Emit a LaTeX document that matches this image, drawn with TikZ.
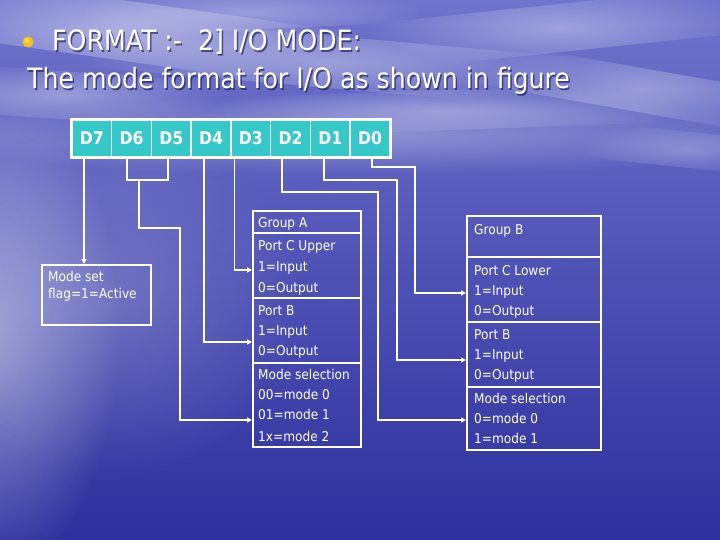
\documentclass[tikz,border=0pt]{standalone}
\usepackage{fontspec}
\setmainfont[FakeStretch=0.9]{DejaVu Sans}
\usetikzlibrary{arrows.meta,fadings}
\definecolor{bgtop}{RGB}{112,116,204}
\definecolor{bgmid}{RGB}{68,72,182}
\definecolor{bgbot}{RGB}{46,48,158}
\definecolor{teal}{RGB}{52,200,200}
\definecolor{shadow}{RGB}{20,20,70}
\definecolor{bullet}{RGB}{242,192,30}
\tikzfading[name=blob, inner color=transparent!0, outer color=transparent!100]
\begin{document}
\begin{tikzpicture}[x=1pt,y=-1pt,
  bit/.style={draw=white, line width=1.5pt, fill=teal, minimum width=39.75pt, minimum height=37pt, inner sep=0pt, text=white, font=\bfseries\fontsize{17.5}{19}\selectfont},
  sec/.style={draw=white, line width=2pt, inner sep=0pt},
  txt/.style={anchor=base west, inner sep=0pt, text=white, font=\fontsize{13.5}{15}\selectfont},
  ttl/.style={anchor=base west, inner sep=0pt, text=white, font=\fontsize{28}{30}\selectfont},
  tsh/.style={anchor=base west, inner sep=0pt, text=shadow, opacity=0.6, font=\fontsize{28}{30}\selectfont},
  wire/.style={draw=white, line width=1.3pt},
  arr/.style={wire, -{Triangle[length=5pt,width=5pt]}},
  soft/.style={fill=white, path fading=blob}]
\useasboundingbox (0,0) rectangle (720,540);
% background
\shade[top color=bgtop, middle color=bgmid, bottom color=bgbot] (0,0) rectangle (720,540);
\fill[soft, opacity=0.45] (-140,80) rectangle (120,580);
\fill[soft, opacity=0.2] (-80,120) rectangle (300,480);
\fill[soft, opacity=0.3] (-100,95) rectangle (820,175);
\foreach \cx/\cy/\rx/\ry/\rot/\op in {120/30/220/30/-8/0.45, 330/62/250/26/-5/0.35, 560/28/190/24/6/0.35, 640/90/170/22/-10/0.35, 60/95/160/24/-4/0.35, 450/110/240/20/2/0.3, 250/12/170/18/3/0.3, 690/150/110/18/-6/0.25}
  \fill[soft, opacity=\op, rotate around={\rot:(\cx,\cy)}] (\cx-\rx,\cy-\ry) rectangle (\cx+\rx,\cy+\ry);
% title
\fill[bullet] (28,42) circle (5.5);
\fill[yellow!60!white, opacity=0.7] (27,40.5) circle (2.2);
\node[tsh] (t1s) at (53.5,52.5) {FORMAT :-\ \ 2] I/O MODE:};
\node[ttl] (t1) at (52,51) {FORMAT :-\ \ 2] I/O MODE:};
\node[tsh] (t2s) at (28.5,90.5) {The mode format for I/O as shown in figure};
\node[ttl] (t2) at (27,89) {The mode format for I/O as shown in figure};
% bit cells
\node[bit] (d7) at (91.9,138.5) {D7};
\node[bit] (d6) at (131.6,138.5) {D6};
\node[bit] (d5) at (171.4,138.5) {D5};
\node[bit] (d4) at (211.1,138.5) {D4};
\node[bit] (d3) at (250.9,138.5) {D3};
\node[bit] (d2) at (290.6,138.5) {D2};
\node[bit] (d1) at (330.4,138.5) {D1};
\node[bit] (d0) at (370.1,138.5) {D0};
\draw[white, line width=2pt] (d7.north west) rectangle (d0.south east);
% mode set box
\node[sec, minimum width=109pt, minimum height=60pt] (ms) at (96.5,295) {};
\node[txt] (ms1) at (48,281) {Mode set};
\node[txt] (ms2) at (48,298) {flag=1=Active};
% group A
\node[sec, minimum width=108pt, minimum height=22pt] (aH) at (307,222) {};
\node[sec, minimum width=108pt, minimum height=65pt] (aC) at (307,265.5) {};
\node[sec, minimum width=108pt, minimum height=65pt] (aB) at (307,330.5) {};
\node[sec, minimum width=108pt, minimum height=84pt] (aM) at (307,405) {};
\node[txt] (aH1) at (258,227) {Group A};
\node[txt] (aC1) at (258,251) {Port C Upper};
\node[txt] (aC2) at (258,271) {1=Input};
\node[txt] (aC3) at (258,292) {0=Output};
\node[txt] (aB1) at (258,315) {Port B};
\node[txt] (aB2) at (258,335) {1=Input};
\node[txt] (aB3) at (258,355) {0=Output};
\node[txt] (aM1) at (258,379) {Mode selection};
\node[txt] (aM2) at (258,399) {00=mode 0};
\node[txt] (aM3) at (258,419) {01=mode 1};
\node[txt] (aM4) at (258,441) {1x=mode 2};
% group B
\node[sec, minimum width=134pt, minimum height=41pt] (bH) at (534,236.5) {};
\node[sec, minimum width=134pt, minimum height=65pt] (bC) at (534,289.5) {};
\node[sec, minimum width=134pt, minimum height=65pt] (bB) at (534,354.5) {};
\node[sec, minimum width=134pt, minimum height=63pt] (bM) at (534,418.5) {};
\node[txt] (bH1) at (474,234) {Group B};
\node[txt] (bC1) at (474,275) {Port C Lower};
\node[txt] (bC2) at (474,295) {1=Input};
\node[txt] (bC3) at (474,315) {0=Output};
\node[txt] (bB1) at (474,339) {Port B};
\node[txt] (bB2) at (474,359) {1=Input};
\node[txt] (bB3) at (474,379) {0=Output};
\node[txt] (bM1) at (474,403) {Mode selection};
\node[txt] (bM2) at (474,423) {0=mode 0};
\node[txt] (bM3) at (474,443) {1=mode 1};
% connectors
\coordinate (j65) at (139,180);
\coordinate (k65) at (180,228);
\coordinate (k2) at (378,192);
\coordinate (k1) at (397,180);
\coordinate (k0) at (415,167);
\draw[arr] ([xshift=-7.9pt]d7.south) -- ([xshift=-7.9pt]d7.south |- ms.north);
\draw[wire] ([xshift=-4.6pt]d6.south) |- (j65) -| ([xshift=-3.4pt]d5.south);
\draw[arr] (j65) |- (k65) |- ([yshift=-15pt]aM.west);
\draw[arr] ([xshift=-7pt]d4.south) |- ([yshift=-11.5pt]aB.west);
\draw[arr] ([xshift=-16.6pt]d3.south) |- ([yshift=-4.5pt]aC.west);
\draw[arr] ([xshift=-8.6pt]d2.south) |- (k2) |- ([yshift=-1.5pt]bM.west);
\draw[arr] ([xshift=-6.4pt]d1.south) |- (k1) |- ([yshift=-5.5pt]bB.west);
\draw[arr] ([xshift=2pt]d0.south) |- (k0) |- ([yshift=-3.5pt]bC.west);
\end{tikzpicture}
\end{document}
